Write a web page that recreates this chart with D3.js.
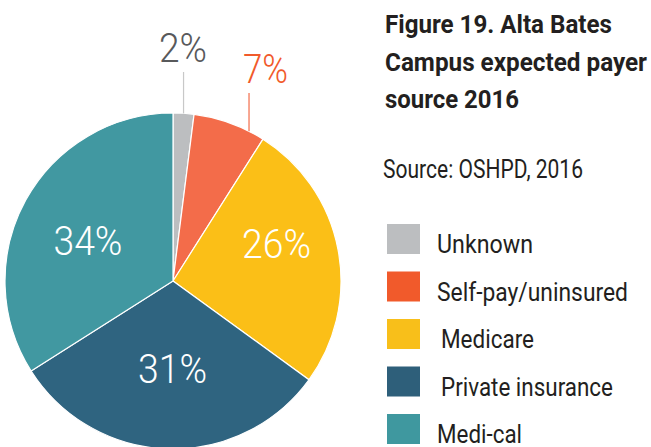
<!DOCTYPE html>
<html>
<head>
<meta charset="utf-8">
<script src="https://cdn.jsdelivr.net/npm/d3@7"></script>
<style>
  body { margin: 0; background: #fff; }
  svg { display: block; }
  text { font-family: Roboto, "Open Sans", sans-serif; }
</style>
</head>
<body>
<div id="chart"></div>
<script>
// payer mix, Alta Bates Campus 2016 (percent)
const categories = ["Unknown", "Self-pay/uninsured", "Medicare", "Private insurance", "Medi-cal"];
const values = [2, 7, 26, 31, 34];
const sliceColors = ["#bcbec0", "#f36c4a", "#fbbf17", "#2f6480", "#4198a1"];
const legendColors = ["#bcbec0", "#f15a2b", "#f8bf1a", "#2e5f7a", "#3f989f"];
const titleLines = ["Figure 19. Alta Bates", "Campus expected payer", "source 2016"];
const sourceText = "Source: OSHPD, 2016";

const W = 651, H = 447;
const cx = 173, cy = 281, R = 168;

// the original is set in a condensed face, so squeeze text to the widths seen there
const titleWidths = [227, 262, 134];
const legendWidths = [96, 191, 93, 172, 85];

// hand placed label tweaks from the original layout (angle offset in rad, radius)
const labelPos = {
    "Unknown":            {outside: true, da: 0, lineTop: -209, tx: 10, ty: -219, w: 48, color: "#58595b", lineColor: "#c8c8c8"},
    "Self-pay/uninsured": {outside: true, da: 0.124, lineTop: -188, tx: 92.5, ty: -198, w: 45, color: "#f15a2b", lineColor: "#f36c4a"},
    "Medicare":           {r: 110, da: -0.154},
    "Private insurance":  {r: 88, da: -0.026},
    "Medi-cal":           {r: 94, da: -0.063}
};

let svg = d3.select("#chart")
    .append("svg")
    .attr("width", W)
    .attr("height", H);

let data = categories.map((c, i) => ({name: c, value: values[i], i: i}));

let pie = d3.pie().sort(null).value(d => d.value);
let arcs = pie(data);
let arc = d3.arc().innerRadius(0).outerRadius(R);

let g = svg.append("g")
    .attr("transform", "translate(" + cx + "," + cy + ")");

g.selectAll("path")
    .data(arcs)
    .join("path")
    .attr("d", arc)
    .attr("fill", d => sliceColors[d.data.i])
    .attr("stroke", "#fff")
    .attr("stroke-width", 1.2);

let polar = (a, r) => [Math.sin(a) * r, -Math.cos(a) * r];

arcs.forEach(d => {
    let lp = labelPos[d.data.name];
    let mid = (d.startAngle + d.endAngle) / 2 + lp.da;
    if (lp.outside) {
        let p0 = polar(mid, R);
        g.append("line")
            .attr("x1", p0[0]).attr("y1", p0[1])
            .attr("x2", p0[0]).attr("y2", lp.lineTop)
            .attr("stroke", lp.lineColor)
            .attr("stroke-width", 1.2);
        g.append("text")
            .attr("x", lp.tx)
            .attr("y", lp.ty)
            .attr("text-anchor", "middle")
            .attr("font-size", 40)
            .attr("font-weight", 300)
            .attr("textLength", lp.w)
            .attr("lengthAdjust", "spacingAndGlyphs")
            .attr("fill", lp.color)
            .text(d.data.value + "%");
    } else {
        let pt = polar(mid, lp.r);
        g.append("text")
            .attr("x", pt[0])
            .attr("y", pt[1])
            .attr("dy", "0.36em")
            .attr("text-anchor", "middle")
            .attr("font-size", 40)
            .attr("font-weight", 300)
            .attr("textLength", 69)
            .attr("lengthAdjust", "spacingAndGlyphs")
            .attr("fill", "#fff")
            .text(d.data.value + "%");
    }
});

// title block
svg.append("g")
    .selectAll("text")
    .data(titleLines)
    .join("text")
    .attr("x", 385)
    .attr("y", (d, i) => 33 + i * 37.5)
    .attr("font-size", 26.5)
    .attr("font-weight", "bold")
    .attr("textLength", (d, i) => titleWidths[i])
    .attr("lengthAdjust", "spacingAndGlyphs")
    .attr("fill", "#231f20")
    .text(d => d);

svg.append("text")
    .attr("x", 383)
    .attr("y", 178)
    .attr("font-size", 25)
    .attr("textLength", 200)
    .attr("lengthAdjust", "spacingAndGlyphs")
    .attr("fill", "#231f20")
    .text(sourceText);

// legend
let leg = svg.append("g")
    .selectAll("g")
    .data(categories)
    .join("g")
    .attr("transform", (d, i) => "translate(387," + (224 + i * 47.5) + ")");

leg.append("rect")
    .attr("width", 33)
    .attr("height", 30)
    .attr("fill", (d, i) => legendColors[i]);

leg.append("text")
    .attr("x", (d, i) => (i === 2 || i === 3) ? 54 : 50)
    .attr("y", 29)
    .attr("font-size", 25)
    .attr("textLength", (d, i) => legendWidths[i])
    .attr("lengthAdjust", "spacingAndGlyphs")
    .attr("fill", "#231f20")
    .text(d => d);
</script>
</body>
</html>
